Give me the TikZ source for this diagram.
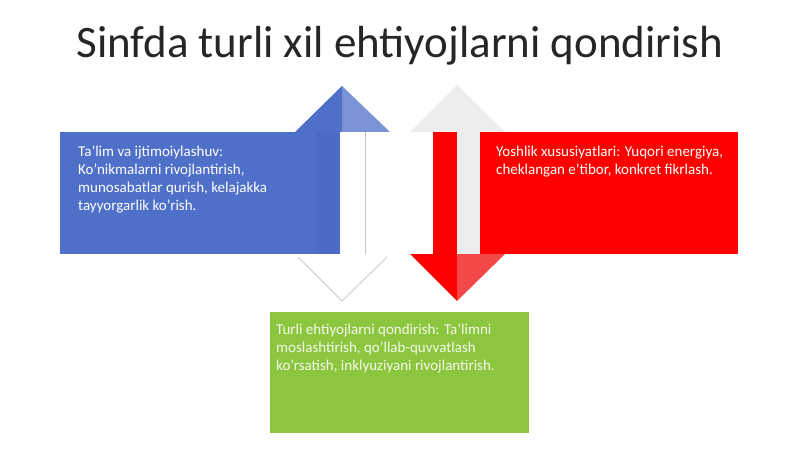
\documentclass[tikz,border=0pt]{standalone}
\usepackage{fontspec}
\setmainfont{Carlito}
\definecolor{bluebox}{HTML}{4F70C9}
\definecolor{bluedark}{HTML}{4B6BC5}
\definecolor{bluelight}{HTML}{7A92D6}
\definecolor{redbox}{HTML}{FF0000}
\definecolor{redlight}{HTML}{F24848}
\definecolor{greybar}{HTML}{EDEDED}
\definecolor{greenbox}{HTML}{8CC63F}
\definecolor{edgegrey}{HTML}{D6D6D6}
\begin{document}
\begin{tikzpicture}[x=1pt,y=-1pt,
  bodytext/.style={text=white,font=\fontsize{15}{18}\selectfont,align=left,anchor=north west,inner sep=0pt}]
\useasboundingbox[fill=white] (0,0) rectangle (800,449);
% title
\node[font=\fontsize{45}{50}\selectfont,text=black!85] (title) at (400,46) {Sinfda turli xil ehtiyojlarni qondirish};
% blue panel
\fill[bluebox] (60,132) rectangle (340,254);
\fill[bluedark] (316,132) rectangle (340,254);
\fill[bluebox] (295,132) -- (342,86) -- (342,132) -- cycle;
\fill[bluelight] (342,86) -- (390,132) -- (342,132) -- cycle;
\fill[white] (340,132) rectangle (365,254);
\draw[edgegrey!80!gray,line width=0.8pt] (365,132) -- (365,254);
\fill[white] (295,254) -- (342,301) -- (390,254) -- cycle;
\draw[edgegrey,line width=1.2pt] (298,257) -- (342,301) -- (387,257);
% red panel
\fill[greybar] (410,132) -- (457,85) -- (505,132) -- cycle;
\fill[redbox] (480,132) rectangle (738,254);
\fill[greybar] (457,132) rectangle (480,254);
\fill[redbox] (433,132) rectangle (457,254);
\fill[redbox] (410,254) -- (457,301) -- (457,254) -- cycle;
\fill[redlight] (457,301) -- (505,254) -- (457,254) -- cycle;
% green panel
\fill[greenbox] (270,312) rectangle (529,433);
% texts
\node[bodytext] (bluetext) at (78,146) {Ta’lim va ijtimoiylashuv:\\Ko'nikmalarni rivojlantirish,\\munosabatlar qurish, kelajakka\\tayyorgarlik ko'rish.};
\node[bodytext] (redtext) at (496,146) {Yoshlik xususiyatlari: Yuqori energiya,\\cheklangan e'tibor, konkret fikrlash.};
\node[bodytext,text=white!90!greenbox] (greentext) at (276,324) {Turli ehtiyojlarni qondirish: Ta’limni\\moslashtirish, qo'llab-quvvatlash\\ko'rsatish, inklyuziyani rivojlantirish.};
\end{tikzpicture}
\end{document}
